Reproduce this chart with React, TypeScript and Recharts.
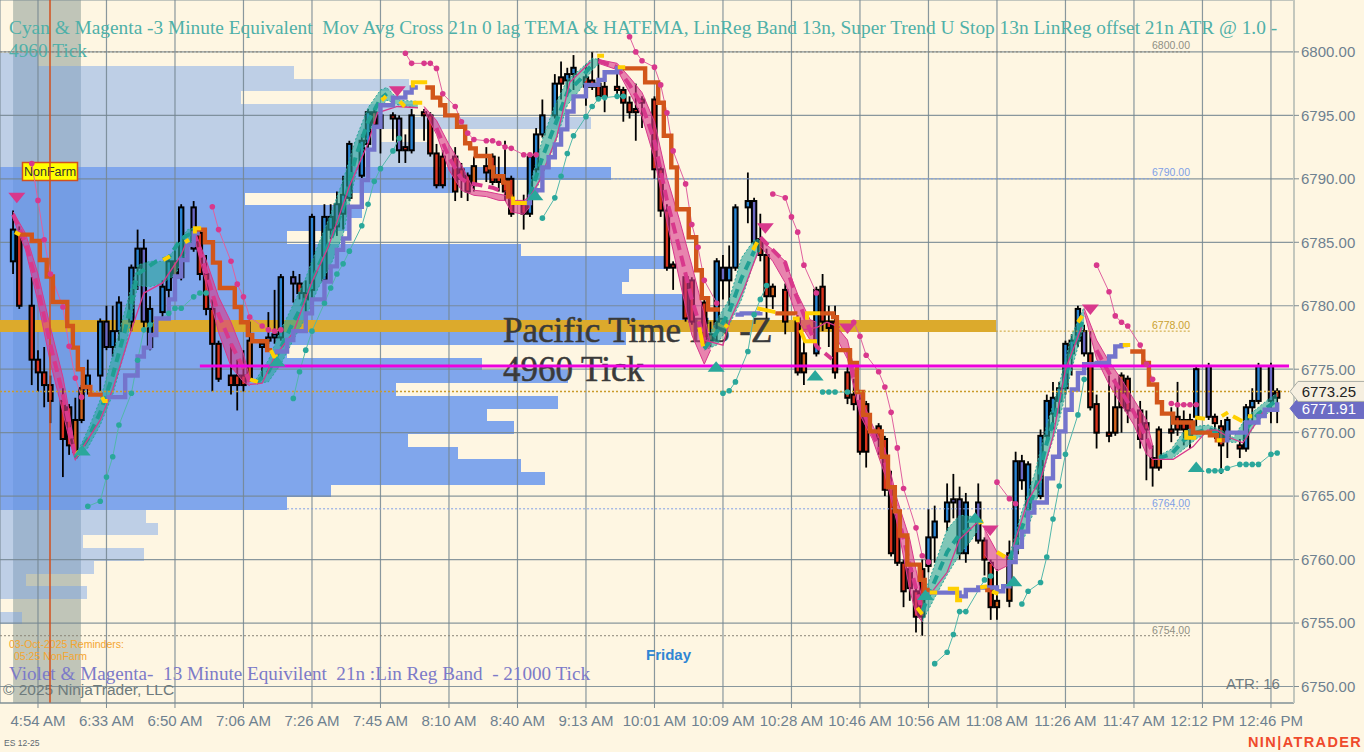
import React from "react";
import {
  ComposedChart, Bar, Line, Area, XAxis, YAxis, CartesianGrid,
  ReferenceArea, ReferenceLine, ReferenceDot,
} from "recharts";

const tickSlots = [6, 17, 28, 39, 50, 61, 72, 83, 94, 105, 116, 127, 138, 149, 160, 171, 182, 193, 204];
const tickLabels = ["4:54 AM", "6:33 AM", "6:50 AM", "7:06 AM", "7:26 AM", "7:45 AM", "8:10 AM", "8:40 AM", "9:13 AM", "10:01 AM", "10:09 AM", "10:28 AM", "10:46 AM", "10:56 AM", "11:08 AM", "11:26 AM", "11:47 AM", "12:12 PM", "12:46 PM"];
const priceTicks = [6750, 6755, 6760, 6765, 6770, 6775, 6780, 6785, 6790, 6795, 6800];

const barSlots = [2,3,5,6,7,8,10,11,12,13,14,16,17,18,19,21,22,23,24,26,27,28,29,31,32,33,34,35,37,38,39,40,42,43,44,45,47,48,49,50,52,53,54,55,56,58,59,60,61,63,64,65,66,68,69,70,71,73,74,75,76,78,79,80,81,82,84,85,86,87,89,90,91,92,94,95,96,97,99,100,101,102,103,105,106,107,108,110,111,113,114,115,116,117,118,120,121,122,123,124,126,128,129,131,132,133,134,136,137,138,139,141,142,143,144,145,146,147,148,149,150,152,153,154,155,157,158,159,160,162,163,164,165,167,168,169,170,171,172,173,174,175,176,178,179,180,181,183,184,185,186,188,189,190,191,192,194,195,196,197,199,200,201,202,204,205];
const barHighs = [6787.5,6786.25,6782.25,6776.5,6776.75,6774.5,6773.5,6772.25,6772.75,6773.75,6775.75,6779,6780,6780,6780.75,6783.25,6786,6785.25,6780.75,6782,6784,6784.5,6788,6788.25,6786,6784,6780.5,6777.25,6777,6775.75,6776.5,6778.75,6777.25,6779.5,6781.25,6782.5,6782.75,6782.5,6782,6787.25,6788,6788,6789,6790.25,6793,6793.5,6795.5,6795.5,6795.25,6795.25,6795,6793.5,6795.5,6795.5,6795.25,6792.75,6792.25,6792.5,6791.25,6790.5,6791.75,6792.5,6792,6791.75,6793,6790.25,6788.75,6792,6794,6796.25,6798.25,6799.25,6798.75,6799.75,6799,6800,6799.5,6797.75,6798.5,6797.25,6796.5,6797.5,6796.5,6796.5,6791,6788,6783.5,6782.5,6782.25,6780.5,6778.75,6783.75,6784,6784.75,6788,6790.5,6788.5,6787.25,6784.5,6781.75,6781.75,6779.25,6777.25,6781.5,6782.5,6780,6780,6775.25,6774.25,6773,6772.5,6770.75,6769.75,6767,6764,6760,6759.5,6758,6760,6764,6764.25,6766,6766.75,6765.75,6765.25,6766,6761.75,6760,6759.25,6761.5,6768.5,6768.25,6767.75,6770.25,6773,6774,6774,6777.25,6777.75,6780,6778.5,6778,6773,6774.5,6774.25,6774.75,6774.5,6772.5,6771.75,6769,6770.5,6772,6774,6771.75,6771.5,6775.25,6775.5,6771.5,6771,6771.25,6769.5,6772.25,6773.5,6775.5,6775.5,6773.5];
const barBodyTops = [6786,6785.75,6780,6775.75,6774.75,6773.75,6772.5,6772,6771,6773.5,6774.5,6778.75,6778.75,6778,6780.25,6783,6784.5,6784.5,6779.75,6781.5,6783.5,6783.5,6787.75,6787.75,6785.75,6782.5,6779.75,6777,6774.5,6774.5,6774.5,6777.25,6777,6777.5,6777.75,6782.25,6782.25,6781.75,6781,6787,6787,6787,6788,6788.75,6792.75,6793,6795.25,6795.25,6795,6795,6794.75,6792.5,6795,6795.25,6795,6792,6791.75,6791.75,6790.75,6790.25,6791,6791,6791.75,6790.25,6790,6790,6788,6791.75,6793.5,6795,6797.5,6798,6798.25,6798.75,6798,6797.75,6797.5,6797.25,6797.25,6797,6796,6795.5,6796.25,6796.25,6790.75,6787.5,6783.25,6782.25,6782,6780.25,6777.75,6783.5,6783,6783,6787.75,6788.25,6788.25,6785.25,6784,6781.5,6781.25,6779,6776.25,6781.25,6781.5,6778.75,6778.75,6774.75,6773,6772.5,6772.25,6770.5,6769.5,6765.75,6763.5,6759.75,6759.25,6757.5,6759.25,6761.75,6763,6764.5,6764.75,6764.75,6764.5,6764.5,6761.5,6759.75,6756.75,6760.5,6767.75,6767.75,6767.5,6769.75,6772.5,6772.75,6773.5,6777,6777.25,6779.75,6778,6776.25,6772.25,6770,6772,6774.5,6774.25,6771.75,6770.75,6768,6770.25,6770.25,6771.25,6771,6771,6775,6775.25,6771.25,6770.5,6771,6769,6772,6772.5,6775.25,6775.25,6773.25];
const barBodyBottoms = [6783.5,6780,6775.75,6774.75,6773.75,6772.5,6769.5,6769,6768.5,6771,6773.5,6774.5,6776.75,6776.75,6778,6778.75,6783,6778.75,6776.75,6779.5,6781.25,6782.25,6782.25,6784.5,6782.5,6779.75,6777,6774.25,6773.75,6773.75,6773.75,6774.25,6776.75,6777.25,6777.5,6777.5,6781.75,6781,6780.5,6781.25,6782,6786,6786.25,6787.25,6788.5,6790.25,6792.75,6794.25,6794,6794.75,6792.25,6792.25,6792.25,6795,6792,6789.5,6789.5,6789,6790,6789,6789.5,6790.5,6789.75,6789.75,6789,6787.25,6787.25,6787.25,6790.75,6793.5,6795,6797.5,6797.75,6798.25,6797.25,6797.25,6796.5,6796.5,6797,6796,6795.25,6795.25,6796,6790.75,6787.5,6783,6783,6779,6778.75,6777,6777.25,6778.75,6782,6782,6783,6787.75,6785,6784,6780.75,6780.75,6778.75,6774.75,6774.75,6776.25,6778.75,6778.25,6774.75,6772.75,6772.25,6768.5,6768.5,6769.5,6765.5,6760.5,6759.75,6757.5,6757.75,6755.5,6755.5,6759.5,6761.75,6763,6764.5,6760.5,6760.5,6761.5,6760,6756.25,6756.25,6756.75,6760.5,6766.25,6764,6765,6769.75,6771.5,6772.5,6773.5,6776.25,6777.25,6776.25,6772,6770,6769.75,6770,6772,6771.75,6769.5,6770.25,6767.25,6767.25,6770,6770.25,6770.25,6769.75,6771.25,6771.25,6770.75,6769,6769.5,6768.75,6768.75,6772,6772.5,6772.5,6772.75];
const barLows = [6782.5,6779.75,6773.75,6773.25,6772,6770.75,6766.5,6768.25,6768.25,6770.75,6773,6773.25,6776.5,6776,6777.25,6778,6781.25,6778,6776.5,6779,6780.5,6781.75,6782,6784.25,6782,6779.25,6773.25,6774,6773,6771.75,6773.25,6774,6774.25,6777,6777,6777.25,6780.25,6780.5,6779.5,6780.5,6781.75,6785.25,6785.5,6786,6788.25,6789,6792,6792.75,6792,6793,6791.25,6791.25,6792,6793,6791.75,6789.25,6789.25,6788.25,6788.5,6788.25,6789,6789.75,6789.5,6789,6788.25,6787,6786,6787,6790,6793.25,6794.75,6796.25,6796.5,6797,6795.75,6797,6796.25,6795.25,6796.5,6794.5,6794.75,6793,6794,6790,6787,6782.75,6781.25,6778.75,6778.5,6776.75,6776.75,6777.25,6780.5,6780,6782.75,6786.5,6784.75,6783.5,6779,6779.75,6777.75,6774.5,6773.75,6776,6778,6776.75,6774.25,6772.25,6771.75,6768.25,6767.25,6768.25,6765,6760.25,6759.5,6756.25,6756.75,6754.25,6754,6759,6759.75,6762.25,6763.25,6760,6759.75,6761.25,6758.75,6755.25,6755.25,6756.25,6760,6765.5,6763.5,6764.75,6769.5,6770.25,6771.5,6773,6774.5,6776.75,6776,6771.75,6768.75,6769.25,6769.75,6770,6770.75,6768.75,6766.25,6765.75,6767,6769.25,6769.75,6769,6768.75,6770.5,6771,6769.5,6766.75,6768,6768,6768.5,6770.75,6772.25,6770.75,6770.75];
const upSlots = [2,14,16,18,19,21,22,24,26,27,29,42,43,44,45,50,52,53,55,56,58,59,66,85,86,87,89,91,92,115,117,118,120,131,149,150,152,155,163,165,167,168,169,170,171,172,173,192,197,200,201,202];
const violetSlots = [17,23,31,47,54,64,116,121,153,154,157,164,174,194,204];
const orangeSlots = [12,13,40,76,124,129,160,162,179,180,186];

// volume profile: top of each one-point row, and how far it reaches along the time axis
const profileLightTops = [6799.9,6798.9,6797.9,6796.9,6795.9,6794.9,6793.9,6792.9,6791.9,6763.9,6762.9,6761.9,6760.9,6759.9,6758.9,6757.9,6755.9];
const profileLightReach = [6,47.1,65.6,38.6,66.2,94.8,60.9,69.4,69.4,23.3,25.3,13.2,23,15,4.1,13.9,3.4];
const profileValueTops = [6790.9,6789.9,6788.9,6787.9,6786.9,6785.9,6784.9,6783.9,6782.9,6781.9,6780.9,6779.9,6777.9,6776.9,6775.9,6774.9,6773.9,6772.9,6771.9,6770.9,6769.9,6768.9,6767.9,6766.9,6765.9,6764.9];
const profileValueReach = [98,72.6,39.2,58,56.3,46,83.6,107.5,100.9,99.8,109.9,110.7,100.4,46,77.3,91.1,63.5,89.5,78.1,82.4,65.4,73.5,83.6,87.4,53.1,46];

type Tri = [number, number | null, number | null];
type Pair = [number, number | null];

const tealRibbon: Tri[] = [[12,6768.1,6767.9],[14,6770.2,6768.8],[16,6772.6,6770.6],[18,6776.1,6773],[20,6779.7,6776.5],[22,6783.2,6781.6],[24,6783.5,6781.5],[26,6783.5,6781.8],[28,6784.4,6782.4],[30,6786,6784.4],[31,6786.1,6785.4],[32,null,null],
[41,6774.2,6773.9],[43,6775.7,6774],[45,6778.1,6775.4],[47,6780.1,6777.3],[49,6782.2,6779.1],[51,6784.8,6781.4],[53,6787.2,6783.2],[55,6789.9,6785.6],[57,6793.1,6790.3],[59,6795.6,6793.5],[61,6797,6795.6],[62,6797.2,6796.2],[64,6796.2,6795.8],[67,6796.1,6795.6],[68,null,null],
[85,6789.5,6788],[87,6793.1,6790.3],[89,6795.8,6792.7],[91,6797.8,6795.8],[93,6798.6,6797],[95,6799.5,6798.6],[96,6799.4,6799],[97,null,null],
[113,6776.9,6776.5],[115,6778.9,6776.9],[117,6780.5,6778.5],[119,6783.8,6780.5],[121,6785.2,6783.5],[122,6785.2,6784.4],[123,null,null],
[148,6756.8,6755.1],[150,6759.6,6757],[152,6762.4,6758.8],[154,6763.5,6760.4],[156,6763.4,6761.6],[157,6763.3,6762.4],[158,null,null],
[162,6760.3,6759.6],[164,6763.8,6761.2],[166,6766.7,6763.9],[168,6770.6,6767.9],[170,6773.8,6771],[172,6777.7,6775],[174,6779.9,6778.5],[175,null,null],
[186,6768.2,6767.9],[188,6768.7,6767.9],[190,6770.1,6768.7],[192,6770.5,6769.5],[194,6770.6,6770.1],[196,6770.2,6769.5],[198,6769.6,6769.2],[200,6771.2,6769.5],[202,6772,6771],[204,6772.8,6771.7],[205,6773.1,6772]];

const magentaRibbon: Tri[] = [[2,6787.4,6786.9],[4,6785.7,6784.4],[6,6782.5,6780.3],[8,6778.3,6775.5],[10,6774.4,6771.6],[11,6771.7,6769.5],[12,6768.4,6767.8],[13,null,null],
[31,6786.1,6785.6],[33,6783.6,6781.7],[35,6780.7,6777.9],[37,6778.7,6775.2],[39,6776.2,6774],[40,6774.3,6773.7],[41,null,null],
[68,6795.7,6795.4],[70,6794.6,6793.5],[72,6792.7,6790.7],[74,6791.1,6789.1],[76,6789.1,6788.7],[78,6789,6788.6],[80,6788.8,6788.3],[81,6788.7,6788.3],[82,6788.3,6787.4],[84,6788.3,6787.2],[85,6788.6,6787.8],[86,null,null],
[96,6799.4,6799.1],[99,6799.1,6798.6],[101,6798,6796.8],[103,6796.8,6794.9],[105,6794.5,6791.6],[107,6790.1,6786.6],[109,6786.8,6782.1],[111,6783.2,6777.7],[113,6779.3,6775.4],[114,6776.9,6776.5],[115,null,null],
[122,6785.2,6784.7],[124,6784.4,6783.5],[126,6783.5,6781.8],[128,6780.9,6778.9],[130,6778.9,6777.3],[131,6778.7,6777.3],[132,null,null],
[134,6778.5,6777.7],[136,6777.3,6775.8],[138,6773,6771.4],[140,6770.6,6769.5],[142,6768.7,6766.7],[144,6764.7,6762.8],[146,6761.6,6757.6],[147,6759.2,6755.7],[148,6756.8,6755.1],[149,null,null],
[158,6762.4,6760.4],[160,6760.6,6759.1],[162,6760.2,6759.6],[163,null,null],
[174,6779.8,6779.5],[176,6777.3,6775.8],[178,6775.6,6773.8],[180,6774.2,6772.2],[182,6772.6,6770.6],[184,6771,6768.3],[185,6769,6767.9]];

const tealDash: Pair[] = [[12,6768],[14,6769.5],[16,6771.6],[18,6774.5],[20,6778.1],[22,6782.5],[25,6783.5],[27,6783.8],[29,6785.3],[31,6785.8],[32,null],
[41,6773.9],[43,6774.8],[45,6776.7],[47,6778.7],[49,6780.6],[51,6783.1],[53,6785.2],[55,6787.7],[57,6791.7],[59,6794.5],[61,6796.3],[62,6796.7],[63,null],
[85,6788.7],[87,6791.7],[89,6794.2],[91,6796.8],[93,6797.8],[95,6799],[96,null],
[113,6776.6],[115,6777.9],[117,6779.5],[119,6782.2],[121,6784.3],[122,null],
[148,6755.9],[150,6758.3],[152,6760.6],[154,6762],[156,6762.5],[157,null],
[162,6760],[164,6762.5],[166,6765.3],[168,6769.2],[170,6772.4],[172,6776.3],[174,6779.2],[175,null],
[186,6768],[188,6768.3],[190,6769.4],[192,6770],[194,6770.3],[196,6769.9],[197,null],[200,6770.3],[202,6771.5],[204,6772.2],[205,6772.6]];

const magentaDash: Pair[] = [[2,6787.2],[4,6785],[6,6781.4],[8,6776.9],[10,6773],[11,6770.6],[12,6768.1],[13,null],
[31,6785.9],[33,6782.7],[35,6779.3],[37,6777],[39,6775.1],[40,6774],[41,null],
[70,6794],[72,6791.7],[74,6790],[75,6789.7],[79,6789.3],[81,6788.9],[82,null],
[96,6799.3],[99,6798.8],[101,6797.4],[103,6795.8],[105,6793],[107,6788.3],[109,6784.5],[111,6780.5],[113,6777.3],[114,null],
[122,6785.4],[126,6783.4],[127.2,6781.5],[131,6776.8],[133.5,6775.8],[134,null],
[136,6776.5],[138,6772.2],[140,6770],[142,6767.7],[144,6763.7],[146,6759.6],[148,6755.9],[149,null],
[176,6776.5],[178,6774.7],[180,6773.2],[182,6771.6],[184,6769.6],[185,6768.4]];

const thinMagenta: Pair[] = [[12,6767.9],[16,6771],[18,6773.4],[21,6778.1],[23,6781],[26,6781.8],[29,6784],[30,6785.2],[31,null],
[40,6773.8],[42,6773.9],[44,6776],[47,6777.9],[50,6781.9],[52.6,6784.6],[56,6789.4],[59,6792.8],[60.5,6795.2],[63.7,6795.7],[67,6795.6],[68,null],
[84.7,6788.3],[86.6,6789.9],[89.3,6793.3],[91.4,6797.6],[94.7,6799.2],[95,null],
[113,6777.3],[116,6776.9],[117,6778.7],[119.5,6781.5],[121.6,6784.2],[122,null],
[128.9,6778.1],[131.1,6778.3],[132.7,6778.7],[134.8,6778.3],[135,null],
[149,6757.1],[152,6759],[154,6761.6],[157,6763],[158,null],
[162.6,6761],[165,6764.7],[167,6766.3],[169,6769.7],[171,6775],[173.6,6778.3],[174,null],
[185,6767.9],[188.3,6767.9],[191.5,6768.9],[193.8,6770.2],[195.3,6770.2],[197.4,6769.6],[199.5,6769.2],[202.7,6771.6],[205,6772]];

const violetStop: Pair[] = [[17,6772.8],[20,6774.5],[22,6776],[23,6776.7],[24,6777.7],[25,6779],[27,6780.5],[28,6782.3],[29,6783.6],[30,6784.8],[31,6785.7],[32,6785.7],[33,null],
[44,6776.4],[46,6777.3],[47,6778],[49,6779.4],[50,6780.5],[52,6781.9],[53,6783.1],[54,6784.4],[55,6785.3],[56,6787.8],[58,6789.9],[59,6792.3],[60,6794.1],[61,6795.8],[63,6796.4],[65,6796.8],[66,6797.2],[67,6797.2],[68,null],
[84,6788.1],[85,6788.6],[86,6789.1],[87,6790.9],[88,6791.7],[89,6792.7],[90,6793.9],[91,6795.3],[92,6796.5],[94,6797.4],[96,6797.8],[97,6798.4],[99,6798.7],[100,6798.7],[101,null],
[118,6779.3],[119,6779.4],[122,6779.5],[123,null],
[149,6757.4],[154,6757.1],[155,6757.6],[157,6757.8],[160,6757.5],[161,6757.9],[162,6759.8],[163,6761],[164,6762.2],[165,6763.7],[166,6764.5],[168,6766.4],[169,6768.1],[170,6770.1],[171,6771.8],[172,6773.4],[173,6774.7],[174,6775.4],[176,6775.5],[178,6776],[179,6776.8],[180,6776.9],[181,6776.9],[182,null],
[196,6769.4],[197,6770],[200,6770.8],[202,6771.3],[203,6771.8],[205,6772.4]];

const orangeStop: Pair[] = [[3.1,6785.6],[5,6785.1],[6.3,6783.6],[7.4,6782.3],[8.4,6780.3],[10.7,6778.4],[11.6,6776.7],[12.4,6775],[13.2,6773.6],[14.4,6773],[16.4,6773],[16.5,null],
[31.5,6786],[32.8,6785],[34.1,6783.4],[35.2,6781.4],[37.6,6779.9],[38.6,6778.7],[39.7,6777.7],[40.4,6777.2],[42.8,6776.5],[43.6,6776.5],[43.7,null],
[68.2,6797.2],[69.4,6796.4],[70.6,6795.8],[71.4,6795],[73.3,6794.1],[74.6,6792.8],[75.4,6792.4],[76.3,6791.8],[78.6,6790.9],[79.1,6790.2],[80.7,6789.7],[81.5,6788.6],[82.3,6788.6],[82.4,null],
[99.9,6798.7],[103.5,6797.6],[105.6,6796],[106.5,6793.4],[107.7,6790.9],[108.6,6787.6],[110.5,6785.4],[111.7,6782.8],[112.6,6780.6],[113.6,6779.7],[115.5,6779.7],[115.6,null],
[124.4,6779.4],[127.6,6779.3],[127.7,null],
[131.6,6779.4],[133.7,6779.1],[134.3,6776.5],[136.4,6775.5],[137.5,6773.2],[138.5,6771.4],[139.6,6770.1],[141.5,6768.1],[142.5,6765.7],[143.6,6763.8],[144.4,6761.9],[145.6,6759.6],[147.6,6758.4],[148.4,6757.6],[149.2,6757.6],[149.3,null],
[158.1,6757.6],[158.9,6757.6],[159,null],
[181.4,6776.4],[183.5,6775.5],[184.4,6773.8],[185.7,6772.4],[186.5,6771.5],[188.3,6770.8],[191.5,6770],[194.2,6769.8],[195.3,6769.4],[196.6,6769.4]];

const yellowMarks: Pair[] = [[2.3,6785.8],[3.1,6785.6],[3.2,null],[12.1,6768.5],[12.75,6768.3],[12.8,null],[16.3,6772.8],[16.6,6772.5],[17.2,6772.5],[17.3,null],[26.1,6783.6],[27.2,6783.9],[27.3,null],[29.6,6785],[30.25,6785.2],[30.3,null],[31.2,6785.7],[31.2,6786.1],[32.2,6786.1],[32.3,null],[40.05,6774.2],[41.3,6774],[41.4,null],[43.4,6776.5],[43.9,6776],[44.5,6776],[44.6,null],[61.2,6796.2],[61.9,6796.5],[62,null],[64.1,6796.1],[64.9,6795.7],[65,null],[66.2,6797.2],[66.2,6797.6],[68.5,6797.6],[68.6,null],[66.2,6796],[67.7,6796],[67.8,null],[82.3,6788.6],[82.3,6788.1],[84.5,6788.1],[84.6,null],[95.8,6799.7],[96.9,6799.7],[97,null],[99.1,6798.8],[100.3,6798.8],[100.4,null],[112.2,6778.3],[112.8,6776.8],[112.9,null],[116.3,6778.5],[116.8,6778.3],[116.9,null],[120.8,6784.4],[121.5,6785],[121.5,null],[121.5,6779.8],[124.4,6779.5],[124.5,null],[127.2,6779],[128,6779],[128,6778.7],[128.1,null],[128.4,6778.1],[129.2,6777.2],[131.1,6777.2],[131.2,null],[129.5,6778.9],[129.5,6779.4],[131.6,6779.4],[131.7,null],[147.2,6756.2],[148,6755.7],[148.1,null],[149.2,6757.4],[150.4,6757.4],[150.5,null],[152.1,6757.7],[153.6,6757.7],[153.6,6756.8],[154.4,6756.8],[154.5,null],[157,6762.9],[157.8,6763],[157.9,null],[157.3,6757.8],[158.4,6757.9],[158.5,null],[159.2,6757.5],[160.2,6757.3],[160.3,null],[160,6760.6],[161.3,6760.2],[161.4,null],[173,6778.7],[173.7,6779.2],[173.8,null],[180.2,6776.9],[181.4,6776.9],[181.5,null],[190.4,6770.2],[190.4,6769.6],[192,6769.6],[192.1,null],[191.8,6771.2],[193.4,6771.1],[193.5,null],[195.3,6769.4],[196.1,6769.4],[196.2,null],[196.1,6771.3],[197.1,6771.6],[197.2,null],[197.9,6771.3],[199.4,6770.9],[199.5,null],[200.3,6771.3],[201,6771.3]];

const magentaDots: Pair[] = [[5,6791.2],[6,6788.3],[7,6785.2],[8,6782.5],[10,6779.9],[11,6776.8],[12,6774.3],[13,6772.8],[14,null],
[34,6787.8],[35,6786],[37,6783.5],[38,6781.7],[39,6780.7],[40,6779.1],[42,6778.4],[43,6778.1],[44,6778],[45,6778.1],[46,null],
[65,6799.9],[66,6799.1],[68,6799.1],[69,6799.1],[70,6798.7],[71,6796.7],[73,6795.7],[74,6794.5],[75,6793.6],[76,6793.1],[78,6793],[79,6793],[80,6792.8],[81,6792.5],[82,6792.4],[84,6791.9],[85,6791.9],[86,6791.9],[87,null],
[101,6801.2],[102,6800],[103,6799.3],[105,6798.8],[106,6797.4],[107,6795.2],[108,6792.2],[110,6789.6],[111,6786.4],[112,6784.6],[113,6782],[115,6780.2],[116,null],
[124,6788.8],[126,6788.5],[127,6787],[128,6785.8],[129,6783.2],[131,6781],[132,null],[137,6778.7],[138,6777.6],[139,6776.1],[141,6774.8],[142,6773.6],[143,6771.6],[144,6768.8],[145,6765.6],[147,6762.5],[148,6760.3],[149,6759.8],[150,null],
[160,6766.1],[162,6764.8],[163,6764.4],[164,null],
[176,6783.2],[178,6781.1],[179,6779.2],[180,6778.7],[181,6778.4],[183,6776.9],[184,6775.4],[185,6774.2],[186,null],[188,6772.3],[189,6772.2],[190,6772.2],[191,6772.2],[192,6772.2]];

const tealDots: Pair[] = [[14,6764.2],[16,6764.6],[17,6766.5],[18,6768.1],[19,6770.6],[21,6773.1],[22,6775.7],[23,6778.1],[24,6778.5],[27,6779.4],[28,6779.8],[29,6779.8],[31,6780.7],[32,6781],[33,6781],[34,null],
[47,6772.7],[48,6774.8],[49,6776.5],[50,6778],[52,6780.2],[53,6781.4],[54,6782.5],[55,6783.3],[56,6784.3],[58,6786.3],[59,6788],[60,6789.8],[61,6790.8],[63,6792.2],[64,6793.2],[65,null],
[87,6786.9],[89,6788.5],[90,6790.2],[91,6792],[92,6793.4],[94,6794.9],[95,6795.7],[96,6796.3],[97,6796.4],[99,6796.5],[100,6796.5],[101,null],
[116,6773.1],[117,6773.3],[118,6774],[120,6776.4],[121,6779.3],[122,6780.5],[123,6781.6],[124,null],
[132,6773.2],[133,6773.2],[134,6773.2],[136,6773.2],[137,null],
[150,6751.8],[152,6752.7],[153,6754.1],[154,6755.9],[155,6755.9],[158,6758.4],[159,6758.7],[160,null],
[164,6756.5],[165,6757.5],[167,6758.2],[168,6760.2],[169,6763.2],[170,6765.8],[171,6768.3],[173,6771.4],[174,6774.2],[175,null],
[194,6767],[195,6767],[196,6767],[197,6767.2],[199,6767.5],[200,6767.5],[201,6767.5],[202,6767.5],[204,6768.3],[205,6768.4]];

const downMarkers: Pair[] = [[2.6,6788.5],[63.7,6796.9],[122.8,6786.1],[136,6778.2],[158.9,6762.3],[175,6779.7]];
const upMarkers: Pair[] = [[13.1,6768.6],[44.4,6775.6],[85.8,6788.7],[114.9,6775.2],[130.8,6774.5],[148.5,6757.2],[156.5,6763.3],[162.7,6758.3],[192,6767.3]];

const candles = barSlots.map((p, i) => ({
  p,
  range: [barLows[i], barHighs[i]],
  high: barHighs[i],
  low: barLows[i],
  top: barBodyTops[i],
  bottom: barBodyBottoms[i],
}));
const pairRows = (list: Pair[]) => list.map(([p, v]) => ({ p, v }));
const ribbonRows = (list: Tri[]) => list.map(([p, a, b]) => ({ p, band: a === null ? null : [b, a] }));

const X_MIN = -0.1;
const X_MAX = 207.7;
const UP = "#2a84d2";
const DOWN = "#d9331c";
const VIOLET = "#6a68c4";
const ORANGE = "#d2641e";
const TEAL = "#2aa79b";
const MAGENTA = "#d8388c";
const STOP_ORANGE = "#d2561a";
const STOP_VIOLET = "#7474cc";
const GOLD = "#ffd000";
const GRID = "#748690";
const AXIS_TEXT = "#6e8190";

const Candle = (props: any) => {
  const { x, y, width, height, payload } = props;
  if (!payload || !isFinite(y) || !isFinite(height)) return null;
  const h = Math.abs(height);
  const y0 = height < 0 ? y + height : y;
  const unit = h / Math.max(payload.high - payload.low, 0.01);
  const cx = x + width / 2;
  const t = y0 + (payload.high - payload.top) * unit;
  const b = y0 + (payload.high - payload.bottom) * unit;
  const fill = violetSlots.includes(payload.p) ? VIOLET
    : orangeSlots.includes(payload.p) ? ORANGE
    : upSlots.includes(payload.p) ? UP : DOWN;
  return (
    <g>
      <line x1={cx} x2={cx} y1={y0} y2={y0 + h} stroke="#000" strokeWidth={1.8} />
      <rect x={cx - 2.2} y={t} width={4.4} height={Math.max(b - t, 1.5)} fill={fill} stroke="#000" strokeWidth={2} />
    </g>
  );
};

const triangle = (dir: number, fill: string) => (props: any) => {
  const { cx, cy, index } = props;
  if (!isFinite(cx) || !isFinite(cy)) return <g key={index} />;
  const pts = `${cx - 8.5},${cy - dir * 5} ${cx + 8.5},${cy - dir * 5} ${cx},${cy + dir * 5.5}`;
  return <polygon key={index} points={pts} fill={fill} />;
};

const PriceFlag = ({ cx, cy, fill, stroke, color, text }: any) => (
  <g>
    <polygon
      points={`${cx},${cy} ${cx + 8},${cy - 10} ${cx + 75},${cy - 10} ${cx + 75},${cy + 10} ${cx + 8},${cy + 10}`}
      fill={fill} stroke={stroke}
    />
    <text x={cx + 66} y={cy + 5.5} textAnchor="end" fontFamily="Liberation Sans" fontSize={15} fill={color}>{text}</text>
  </g>
);

const serif = "Liberation Serif";
const sans = "Liberation Sans";

export default function App() {
  return (
    <div style={{ position: "absolute", left: 0, top: 0, width: 1364, height: 752, background: "#fef6e2", overflow: "hidden" }}>
      <ComposedChart
        width={1364}
        height={752}
        data={candles}
        margin={{ top: 0, right: 0, bottom: 0, left: 0 }}
      >
        <XAxis
          dataKey="p" type="number" domain={[X_MIN, X_MAX]} allowDataOverflow
          ticks={tickSlots} interval={0} height={49} tickSize={5}
          tickFormatter={(v: number) => tickLabels[tickSlots.indexOf(v)] ?? ""}
          tick={{ fill: AXIS_TEXT, fontFamily: sans, fontSize: 15, dy: 5 }}
          stroke="#7f8d94"
        />
        <YAxis
          orientation="right" type="number" domain={[6748.7, 6804.09]} allowDataOverflow
          ticks={priceTicks} width={70} tickSize={5} interval={0}
          tickFormatter={(v: number) => v.toFixed(2)}
          tick={{ fill: AXIS_TEXT, fontFamily: sans, fontSize: 15 }}
          axisLine={{ stroke: "#c3c7bd", strokeWidth: 2 }}
          tickLine={{ stroke: "#7f8d94" }}
        />

        <ReferenceArea x1={2} x2={12.9} y1={6804.09} y2={6748.7} fill="#c0c5b8" fillOpacity={1} stroke="none" ifOverflow="hidden" zIndex={-300} />
        {profileLightTops.map((t, i) => (
          <ReferenceArea key={"l" + i} x1={X_MIN} x2={profileLightReach[i]} y1={t} y2={t - 1} fill="#78a3ea" fillOpacity={0.47} stroke="none" shapeRendering="crispEdges" ifOverflow="hidden" zIndex={-200} />
        ))}
        {profileValueTops.map((t, i) => (
          <ReferenceArea key={"v" + i} x1={X_MIN} x2={profileValueReach[i]} y1={t} y2={t - 1} fill="#6092ef" fillOpacity={0.8} stroke="none" shapeRendering="crispEdges" ifOverflow="hidden" zIndex={-200} />
        ))}
        <CartesianGrid stroke={GRID} strokeWidth={1.2} strokeOpacity={0.85} zIndex={-150} />
        <ReferenceArea x1={X_MIN} x2={159.8} y1={6778.9} y2={6777.9} fill="#dcaa2c" fillOpacity={1} stroke="none" shapeRendering="crispEdges" ifOverflow="hidden" zIndex={-100} />
        <ReferenceLine x={7.93} stroke="#d2501e" strokeWidth={1.5} />

        <ReferenceLine segment={[{ x: X_MIN, y: 6800 }, { x: 191, y: 6800 }]} stroke="#8a8578" strokeDasharray="2 2" />
        <ReferenceLine segment={[{ x: 98, y: 6790 }, { x: 191, y: 6790 }]} stroke="#7f9fe6" strokeDasharray="2 2" />
        <ReferenceLine segment={[{ x: 159.8, y: 6778 }, { x: 191, y: 6778 }]} stroke="#c9a030" strokeDasharray="2 2" />
        <ReferenceLine segment={[{ x: 46, y: 6764 }, { x: 191, y: 6764 }]} stroke="#7f9fe6" strokeDasharray="2 2" />
        <ReferenceLine segment={[{ x: X_MIN, y: 6754 }, { x: 191, y: 6754 }]} stroke="#8a8578" strokeDasharray="2 2" />

        <text x={1190} y={49} textAnchor="end" fontFamily={sans} fontSize={10.5} fill="#8f8f84">6800.00</text>
        <text x={1190} y={176} textAnchor="end" fontFamily={sans} fontSize={10.5} fill="#7f9fe6">6790.00</text>
        <text x={1190} y={329} textAnchor="end" fontFamily={sans} fontSize={10.5} fill="#c9a030">6778.00</text>
        <text x={1190} y={507} textAnchor="end" fontFamily={sans} fontSize={10.5} fill="#7f9fe6">6764.00</text>
        <text x={1190} y={634} textAnchor="end" fontFamily={sans} fontSize={10.5} fill="#8f8f84">6754.00</text>

        <text x={9} y={34} fontFamily={serif} fontSize={19.35} fill="#4fb0a8" style={{ whiteSpace: "pre" }}>Cyan &amp; Magenta -3 Minute Equivalent  Mov Avg Cross 21n 0 lag TEMA &amp; HATEMA, LinReg Band 13n, Super Trend U Stop 13n LinReg offset 21n ATR @ 1.0 -</text>
        <text x={9} y={57} fontFamily={serif} fontSize={19.35} fill="#4fb0a8">4960 Tick</text>
        <text x={503} y={342} fontFamily={serif} fontSize={35} fill="#3a3a3a" stroke="#3a3a3a" strokeWidth={0.5} style={{ whiteSpace: "pre" }}>Pacific Time ES -Z</text>
        <text x={503} y={381} fontFamily={serif} fontSize={35} fill="#3a3a3a" stroke="#3a3a3a" strokeWidth={0.5}>4960 Tick</text>
        <text x={646} y={660} fontFamily={sans} fontWeight="bold" fontSize={15} fill="#2f86d4">Friday</text>
        <text x={1226} y={689} fontFamily={sans} fontSize={15} fill="#6e7b80">ATR: 16</text>
        <text x={9} y={680} fontFamily={serif} fontSize={19.15} fill="#7c7ac8" style={{ whiteSpace: "pre" }}>Violet &amp; Magenta-  13 Minute Equivilent  21n :Lin Reg Band  - 21000 Tick</text>
        <text x={3} y={695} fontFamily={sans} fontSize={15.5} fill="#6e7b7c">© 2025 NinjaTrader, LLC</text>
        <text x={9} y={648} fontFamily={sans} fontSize={10.5} fill="#f4a530">03-Oct-2025 Reminders:</text>
        <text x={14} y={660} fontFamily={sans} fontSize={10.5} fill="#f4a530">05:25 NonFarm</text>
        <text x={4} y={746} fontFamily={sans} fontSize={8.5} fill="#5c6870">ES 12-25</text>
        <text x={1248} y={747} fontFamily={sans} fontWeight="bold" fontSize={14.5} letterSpacing={1.4} fill="#ef4a2c">NIN|ATRADER</text>
        <rect x={22.5} y={162.5} width={55} height={18} fill="#ffff00" stroke="#d2501e" strokeWidth={1.5} />
        <text x={50} y={176} textAnchor="middle" fontFamily={sans} fontSize={12.5} fill="#333">NonFarm</text>

        <Bar dataKey="range" shape={Candle} barSize={5} isAnimationActive={false} zIndex={300} />

        <Area data={ribbonRows(tealRibbon)} dataKey="band" stroke={TEAL} strokeWidth={1} strokeDasharray="2 2" fill={TEAL} fillOpacity={0.6} isAnimationActive={false} dot={false} activeDot={false} connectNulls={false} zIndex={350} />
        <Area data={ribbonRows(magentaRibbon)} dataKey="band" stroke={MAGENTA} strokeWidth={1} fill={MAGENTA} fillOpacity={0.6} isAnimationActive={false} dot={false} activeDot={false} connectNulls={false} zIndex={350} />

        <Line data={pairRows(tealDash)} dataKey="v" stroke="#1f9f92" strokeWidth={4} strokeDasharray="9 6" dot={false} activeDot={false} isAnimationActive={false} />
        <Line data={pairRows(magentaDash)} dataKey="v" stroke="#d8388c" strokeWidth={4} strokeDasharray="11 6" dot={false} activeDot={false} isAnimationActive={false} />
        <Line data={pairRows(thinMagenta)} dataKey="v" stroke={MAGENTA} strokeWidth={1.3} dot={false} activeDot={false} isAnimationActive={false} />
        <Line data={pairRows(magentaDots)} dataKey="v" stroke="#e0609f" strokeWidth={1} dot={{ r: 2.8, fill: MAGENTA, stroke: "none" }} activeDot={false} isAnimationActive={false} />
        <Line data={pairRows(tealDots)} dataKey="v" stroke="#52b7ab" strokeWidth={1} dot={{ r: 2.8, fill: TEAL, stroke: "none" }} activeDot={false} isAnimationActive={false} />
        <Line data={pairRows(violetStop)} dataKey="v" type="stepAfter" stroke={STOP_VIOLET} strokeWidth={4.4} dot={false} activeDot={false} isAnimationActive={false} />
        <Line data={pairRows(orangeStop)} dataKey="v" type="stepAfter" stroke={STOP_ORANGE} strokeWidth={4.4} dot={false} activeDot={false} isAnimationActive={false} />
        <Line data={pairRows(yellowMarks)} dataKey="v" stroke={GOLD} strokeWidth={4} dot={false} activeDot={false} isAnimationActive={false} />
        <Line data={pairRows(downMarkers)} dataKey="v" stroke="none" dot={triangle(1, MAGENTA)} activeDot={false} isAnimationActive={false} />
        <Line data={pairRows(upMarkers)} dataKey="v" stroke="none" dot={triangle(-1, TEAL)} activeDot={false} isAnimationActive={false} />

        <ReferenceLine segment={[{ x: 32, y: 6775.25 }, { x: 206.9, y: 6775.25 }]} stroke="#ee00dd" strokeWidth={3} />
        <ReferenceLine segment={[{ x: X_MIN, y: 6773.25 }, { x: 206.9, y: 6773.25 }]} stroke="#c99a2a" strokeWidth={1.5} strokeDasharray="2 2" />

        <ReferenceDot x={207.06} y={6771.91} ifOverflow="visible" shape={(p: any) => <PriceFlag {...p} fill="#6c6cc4" stroke="#6c6cc4" color="#ffffff" text="6771.91" />} />
        <ReferenceDot x={207.06} y={6773.25} ifOverflow="visible" shape={(p: any) => <PriceFlag {...p} fill="#f6efe0" stroke="#a9aca4" color="#222222" text="6773.25" />} />
      </ComposedChart>
    </div>
  );
}
